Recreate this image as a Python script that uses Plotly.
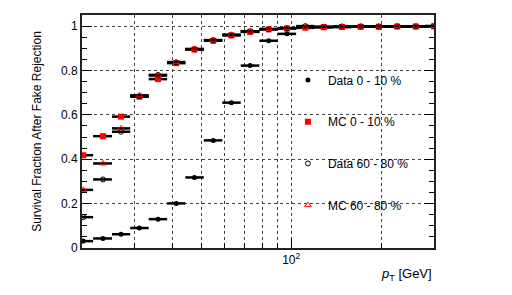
import numpy as np
import plotly.graph_objects as go

# bin centres (pT, GeV)
pt = [20.2, 23.5, 27.0, 31.1, 35.9, 41.3, 47.5, 54.9, 63.1, 72.9,
      84.1, 96.8, 111.5, 128.5, 147.8, 170.7, 196.3, 226.1, 260.8, 300.0]

data_0_10 = [0.031, 0.043, 0.062, 0.090, 0.130, 0.201, 0.318, 0.485, 0.655, 0.822,
             0.934, 0.965, 0.992, 0.995, 0.996, 0.997, 0.997, 0.998, 0.998, 0.999]
mc_0_10 = [0.418, 0.504, 0.592, 0.682, 0.761, 0.833, 0.894, 0.934, 0.958, 0.974,
           0.985, 0.989, 0.993, 0.995, 0.996, 0.997, 0.997, 0.998, 0.998, 0.999]
data_60_80 = [0.139, 0.309, 0.524, 0.683, 0.780, 0.836, 0.896, 0.936, 0.960, 0.976,
              0.986, 0.990, 1.000, 0.997, 0.998, 0.998, 0.998, 0.999, 0.999, 1.000]
mc_60_80 = [0.262, 0.381, 0.539, 0.688, 0.777, 0.838, 0.897, 0.937, 0.961, 0.976,
            0.987, 0.991, 0.995, 0.996, 0.997, 0.998, 0.998, 0.999, 0.999, 1.000]

labels = ["Data 0 - 10 %", "MC 0 - 10 %", "Data 60 - 80 %", "MC 60 - 80 %"]

# bin edges (geometric midpoints between centres)
c = np.array(pt)
mid = np.sqrt(c[:-1] * c[1:])
r0 = c[1] / c[0]
lo_edges = np.concatenate([[c[0] / np.sqrt(r0)], mid])
hi_edges = np.concatenate([mid, [c[-1] * np.sqrt(c[-1] / c[-2])]])
err_plus = hi_edges - c
err_minus = c - lo_edges

styles = [
    dict(symbol="circle", size=5, color="black", line=dict(width=0)),
    dict(symbol="square", size=6, color="#ff0000", line=dict(width=0)),
    dict(symbol="circle-open", size=5, color="black", line=dict(width=1, color="black")),
    dict(symbol="triangle-up-open", size=6, color="#ff0000", line=dict(width=1, color="#ff0000")),
]

fig = go.Figure()
for i, (name, vals) in enumerate(zip(labels, [data_0_10, mc_0_10, data_60_80, mc_60_80])):
    fig.add_trace(go.Scatter(
        x=pt, y=vals, mode="markers", name=name,
        legendgroup=f"g{i}",
        marker=styles[i],
        error_x=dict(type="data", array=err_plus, arrayminus=err_minus,
                     symmetric=False, color="black", thickness=2.5, width=0),
    ))

font_family = "Liberation Sans, Arial, Helvetica, sans-serif"

fig.update_layout(
    width=496, height=279,
    margin=dict(l=74, r=70, t=7, b=39, autoexpand=False),
    paper_bgcolor="white", plot_bgcolor="white",
    font=dict(family=font_family, size=12, color="black"),
    showlegend=True,
    legend=dict(x=0.585, y=0.783, xanchor="left", yanchor="top",
                bgcolor="rgba(0,0,0,0)", font=dict(size=12),
                tracegroupgap=22.7, itemsizing="trace"),
    xaxis=dict(
        type="log", range=[np.log10(20), np.log10(300)],
        tickvals=[100], ticktext=["10<sup>2</sup>"],
        ticks="inside", ticklen=10, tickcolor="black",
        showgrid=True, gridcolor="#444", griddash="dot", gridwidth=1,
        minor=dict(tickvals=[30, 40, 50, 60, 70, 80, 90, 200], ticks="inside",
                   ticklen=5, tickcolor="black", showgrid=True,
                   gridcolor="#444", griddash="dot", gridwidth=1),
        showline=True, linecolor="#222", linewidth=2, mirror=True,
        zeroline=False, tickfont=dict(size=12), automargin=False,
    ),
    yaxis=dict(
        range=[0, 1.05],
        tickvals=[0, 0.2, 0.4, 0.6, 0.8, 1.0],
        ticktext=["0", "0.2", "0.4", "0.6", "0.8", "1"],
        ticks="inside", ticklen=10, tickcolor="black",
        showgrid=True, gridcolor="#444", griddash="dot", gridwidth=1,
        minor=dict(dtick=0.05, ticks="inside", ticklen=5, tickcolor="black", showgrid=False),
        showline=True, linecolor="#222", linewidth=2, mirror="allticks",
        zeroline=False, tickfont=dict(size=12), automargin=False,
        title=dict(text="Survival Fraction After Fake Rejection", font=dict(size=12), standoff=17),
    ),
    annotations=[dict(
        text="<i>p</i><sub>T</sub> [GeV]", xref="paper", yref="paper",
        x=1.0, y=-0.115, xanchor="right", yanchor="middle", showarrow=False,
        font=dict(size=13),
    )],
)

fig.write_html("out.html")
